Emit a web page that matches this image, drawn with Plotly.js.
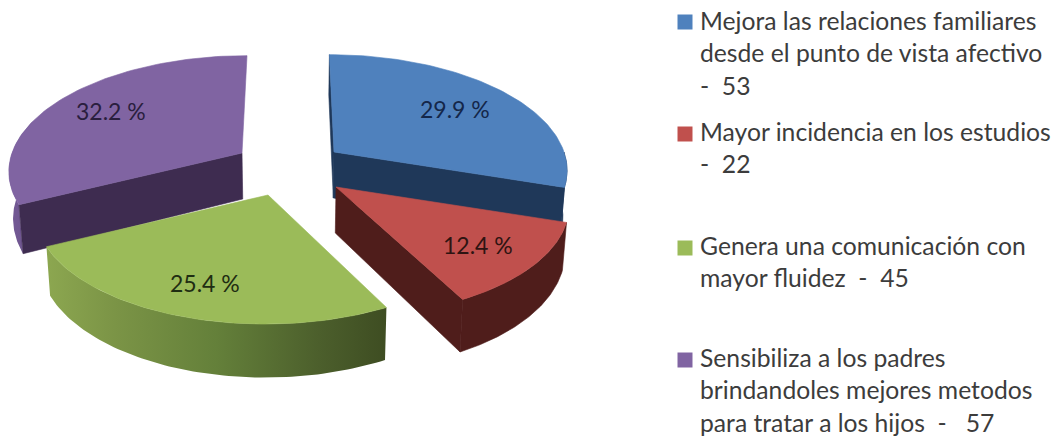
<!DOCTYPE html>
<html><head><meta charset="utf-8">
<script src="https://cdn.plot.ly/plotly-3.0.1.min.js"></script>
<style>html,body{margin:0;padding:0;background:#fff}#c{width:1055px;height:436px}</style>
</head><body><div id="c"></div>
<script>
const categories = [
  ["Mejora las relaciones familiares", "desde el punto de vista afectivo", "-  53"],
  ["Mayor incidencia en los estudios", "-  22"],
  ["Genera una comunicación con", "mayor fluidez  -  45"],
  ["Sensibiliza a los padres", "brindandoles mejores metodos", "para tratar a los hijos  -   57"]
];
const values = [53, 22, 45, 57];
const topColors = ["#4F81BD", "#C0504D", "#9BBB59", "#8064A2"];
const wallColors = ["#1F3859", "#4F1D1B", "#4A5C2A", "#3E2C50"];
const rimScales = [
  null,
  null,
  [[0,"#8CA750"],[0.2,"#7B9446"],[0.5,"#64803A"],[0.8,"#4C5F2C"],[1,"#3E4D22"]],
  [[0,"#745A96"],[1,"#6A5189"]]
];
const labelColors = ["#14274A", "#2E1412", "#1F2D12", "#2A1E3E"];

// slice apex positions on the pixel-mapped axes (exploded pie), and label anchors
const apexX = [334, 336, 268, 242];
const apexY = [152, 187, 195, 153];
const labelX = [455, 478, 205, 111];
const labelY = [109, 245, 283, 111];
const legendMarkerX = 685;
const legendMarkerY = [22, 134, 248, 360];
const legendLineY = [20, 131, 245, 357];
const LINE_STEP = 32.5;

// perspective of the 3-D pie
const RX = 230, RY = 111, K = 0.14, VX = 290, VF = 0.85, DEPTH = 46, CONV = 0.015;

const total = values.reduce((a, b) => a + b, 0);
const TAU = Math.PI * 2;

function proj(cx, cy, t, r) {
  const s = 1 / (1 + K * Math.cos(t) * r);
  return [cx + RX * r * Math.sin(t) * s + (cx - VX) * (s - 1) * VF,
          cy - RY * r * Math.cos(t) * s, s];
}
function low(p) {
  return [p[0] + (VX - p[0]) * CONV, p[1] + DEPTH * p[2]];
}
function poly(pts, color, scale) {
  const xs = pts.map(p => p[0]), ys = pts.map(p => p[1]);
  const tr = {
    type: "scatter", mode: "lines", x: xs.concat(xs[0]), y: ys.concat(ys[0]),
    fill: "toself", fillcolor: color, line: { color: color, width: 0.6 },
    hoverinfo: "skip", showlegend: false
  };
  if (scale) {
    tr.fillgradient = { type: "horizontal", colorscale: scale,
      start: Math.min(...xs), stop: Math.max(...xs) };
    tr.line = { width: 0 };
  }
  return tr;
}
function sliceTraces(i, a0, a1) {
  const cx = apexX[i], cy = apexY[i], out = [];
  const apex = proj(cx, cy, 0, 0);
  const n = 80;
  const rimStart = Math.max(a0, Math.PI / 2), rimEnd = Math.min(a1, Math.PI * 1.5 + 0.3);
  if (rimEnd > rimStart) {
    const rim = [];
    for (let j = 0; j <= n; j++) rim.push(proj(cx, cy, rimStart + (rimEnd - rimStart) * j / n, 1));
    out.push(poly(rim.concat(rim.map(low).reverse()), wallColors[i], rimScales[i]));
  }
  const face = (t) => {
    const e = proj(cx, cy, t, 1);
    return poly([apex, e, low(e), low(apex)], wallColors[i]);
  };
  if (a0 === 0 || a0 > Math.PI) out.push(face(a0));
  if (a1 < Math.PI) out.push(face(a1));
  const arc = [];
  for (let j = 0; j <= n; j++) arc.push(proj(cx, cy, a0 + (a1 - a0) * j / n, 1));
  out.push(poly([apex].concat(arc), topColors[i]));
  return out;
}

const angles = [];
let acc = 0;
values.forEach(v => { angles.push([acc / total * TAU, (acc + v) / total * TAU]); acc += v; });

const traces = [];
[0, 3, 2, 1].forEach(i => traces.push(...sliceTraces(i, angles[i][0], angles[i][1])));

categories.forEach((c, i) => {
  traces.push({
    type: "scatter", mode: "markers", x: [legendMarkerX], y: [legendMarkerY[i]],
    marker: { symbol: "square", size: 15, color: topColors[i], line: { width: 0 } },
    hoverinfo: "skip", showlegend: false
  });
});

const FONT = "Lato, 'Open Sans', sans-serif";
const annotations = [];
values.forEach((v, i) => {
  annotations.push({
    x: labelX[i], y: labelY[i], xref: "x", yref: "y", showarrow: false,
    text: (v / total * 100).toFixed(1) + " %",
    font: { family: FONT, size: 23, color: labelColors[i] }
  });
});
categories.forEach((lines, i) => {
  lines.forEach((line, k) => {
    annotations.push({
      x: 699, y: legendLineY[i] + LINE_STEP * k, xref: "x", yref: "y", showarrow: false,
      xanchor: "left", yanchor: "middle", align: "left", text: line, borderpad: 0,
      font: { family: FONT, size: 24.7, color: "#3C3C3C" }
    });
  });
});

const axis = { visible: false, fixedrange: true, showgrid: false, zeroline: false };
Plotly.newPlot("c", traces, {
  width: 1055, height: 436,
  margin: { l: 0, r: 0, t: 0, b: 0, pad: 0 },
  paper_bgcolor: "#fff", plot_bgcolor: "#fff", showlegend: false,
  xaxis: Object.assign({ range: [0, 1055] }, axis),
  yaxis: Object.assign({ range: [436, 0] }, axis),
  annotations: annotations
}, { displayModeBar: false, staticPlot: true });
</script>
</body></html>
